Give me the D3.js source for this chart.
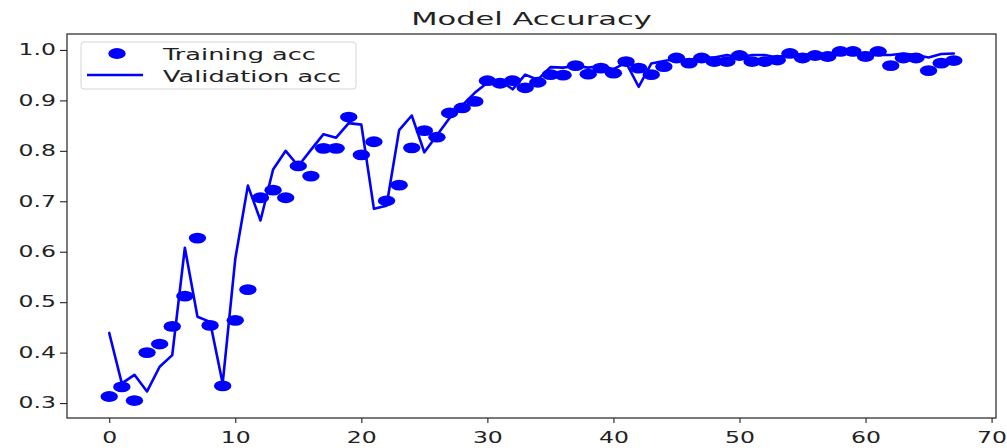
<!DOCTYPE html>
<html>
<head>
<meta charset="utf-8">
<script src="https://cdn.jsdelivr.net/npm/d3@7"></script>
<style>
  body { margin: 0; background: #fff; }
  text { font-family: 'DejaVu Sans', sans-serif; fill: #222; }
</style>
</head>
<body>
<svg id="chart" width="1007" height="448"></svg>
<script>
// values, one per epoch
const trainingAcc = [
  0.313, 0.332, 0.305, 0.400, 0.417, 0.452, 0.512, 0.627, 0.454, 0.334,
  0.464, 0.525, 0.707, 0.722, 0.707, 0.770, 0.750, 0.805, 0.805, 0.867,
  0.792, 0.818, 0.701, 0.732, 0.806, 0.840, 0.827, 0.875, 0.885, 0.898,
  0.939, 0.934, 0.939, 0.925, 0.936, 0.951, 0.950, 0.969, 0.952, 0.964,
  0.954, 0.977, 0.964, 0.951, 0.967, 0.984, 0.974, 0.984, 0.977, 0.977,
  0.989, 0.977, 0.977, 0.980, 0.993, 0.984, 0.989, 0.987, 0.997, 0.997,
  0.987, 0.997, 0.969, 0.984, 0.984, 0.959, 0.974, 0.979
];
const validationAcc = [
  0.439, 0.339, 0.356, 0.323, 0.372, 0.395, 0.608, 0.471, 0.461, 0.339,
  0.586, 0.731, 0.662, 0.763, 0.800, 0.770, 0.802, 0.833, 0.826, 0.855,
  0.852, 0.685, 0.691, 0.841, 0.870, 0.797, 0.831, 0.865, 0.890, 0.915,
  0.935, 0.940, 0.922, 0.951, 0.941, 0.966, 0.965, 0.968, 0.965, 0.968,
  0.962, 0.975, 0.927, 0.973, 0.978, 0.982, 0.980, 0.985, 0.985, 0.990,
  0.985, 0.990, 0.990, 0.985, 0.992, 0.990, 0.992, 0.993, 0.995, 0.990,
  0.995, 0.990, 0.990, 0.993, 0.990, 0.985, 0.992, 0.993
];
const xTicks = [0, 10, 20, 30, 40, 50, 60, 70];
const yTicks = [0.3, 0.4, 0.5, 0.6, 0.7, 0.8, 0.9, 1.0];
const seriesNames = ['Training acc', 'Validation acc'];
const chartTitle = 'Model Accuracy';

const width = 1007;
const height = 448;
const margin = { top: 34, right: 11, bottom: 30, left: 67 };
const SX = 1.57; // the picture is stretched sideways, text too
const blue = '#0000ff';
const ink = '#222';

const svg = d3.select('#chart');
const epochs = trainingAcc.map((d, i) => i);

// 5% padding on each side, like matplotlib's autoscale
const pad = (lo, hi) => {
  const m = (hi - lo) * 0.05;
  return [lo - m, hi + m];
};

const x = d3
  .scaleLinear()
  .domain(pad(0, epochs.length - 1))
  .range([margin.left, width - margin.right]);

const allAcc = trainingAcc.concat(validationAcc);
const y = d3
  .scaleLinear()
  .domain(pad(d3.min(allAcc), d3.max(allAcc)))
  .range([height - margin.bottom, margin.top]);

// axes
const xAxis = svg
  .append('g')
  .attr('transform', `translate(0,${height - margin.bottom})`)
  .call(
    d3.axisBottom(x).tickValues(xTicks).tickFormat(d3.format('d'))
      .tickSize(5).tickPadding(9)
  );
xAxis.attr('font-size', 15).attr('font-family', null);
xAxis.select('.domain').remove();
xAxis.selectAll('line').attr('stroke', ink).attr('stroke-width', 1.1);
xAxis.selectAll('text').attr('fill', ink).attr('transform', `scale(${SX},1)`);

const yAxis = svg
  .append('g')
  .attr('transform', `translate(${margin.left},0)`)
  .call(
    d3.axisLeft(y).tickValues(yTicks).tickFormat(d3.format('.1f'))
      .tickSize(7).tickPadding(4)
  );
yAxis.attr('font-size', 15).attr('font-family', null);
yAxis.select('.domain').remove();
yAxis.selectAll('line').attr('stroke', ink).attr('stroke-width', 1.1);
yAxis
  .selectAll('text')
  .attr('fill', ink)
  .attr('x', -11 / SX)
  .attr('transform', `scale(${SX},1)`);

// training dots
svg
  .append('g')
  .selectAll('ellipse')
  .data(trainingAcc)
  .enter()
  .append('ellipse')
  .attr('cx', (d, i) => x(epochs[i]))
  .attr('cy', d => y(d))
  .attr('rx', 8.7)
  .attr('ry', 5.4)
  .attr('fill', blue);

// validation line
const line = d3
  .line()
  .x((d, i) => x(epochs[i]))
  .y(d => y(d));

svg
  .append('path')
  .datum(validationAcc)
  .attr('d', line)
  .attr('fill', 'none')
  .attr('stroke', blue)
  .attr('stroke-width', 2.6)
  .attr('stroke-linejoin', 'round')
  .attr('stroke-linecap', 'round');

// frame
svg
  .append('rect')
  .attr('x', margin.left)
  .attr('y', margin.top)
  .attr('width', width - margin.left - margin.right)
  .attr('height', height - margin.top - margin.bottom)
  .attr('fill', 'none')
  .attr('stroke', ink)
  .attr('stroke-width', 1.2);

// title
svg
  .append('text')
  .attr('transform', `translate(${(margin.left + width - margin.right) / 2},25) scale(1.65,1)`)
  .attr('text-anchor', 'middle')
  .attr('font-size', 18.5)
  .text(chartTitle);

// legend
const legend = svg
  .append('g')
  .attr('transform', `translate(${margin.left + 14},${margin.top + 8})`);

legend
  .append('rect')
  .attr('width', 275)
  .attr('height', 47)
  .attr('rx', 3)
  .attr('fill', '#fff')
  .attr('fill-opacity', 0.8)
  .attr('stroke', '#d6d6d6')
  .attr('stroke-width', 1);

legend
  .append('ellipse')
  .attr('cx', 36)
  .attr('cy', 11.5)
  .attr('rx', 8.7)
  .attr('ry', 5.4)
  .attr('fill', blue);

legend
  .append('line')
  .attr('x1', 6)
  .attr('x2', 62)
  .attr('y1', 33)
  .attr('y2', 33)
  .attr('stroke', blue)
  .attr('stroke-width', 2.6);

legend
  .selectAll('text')
  .data(seriesNames)
  .enter()
  .append('text')
  .attr('transform', (d, i) => `translate(82,${18 + i * 21.7}) scale(1.55,1)`)
  .attr('font-size', 16.5)
  .text(d => d);
</script>
</body>
</html>
